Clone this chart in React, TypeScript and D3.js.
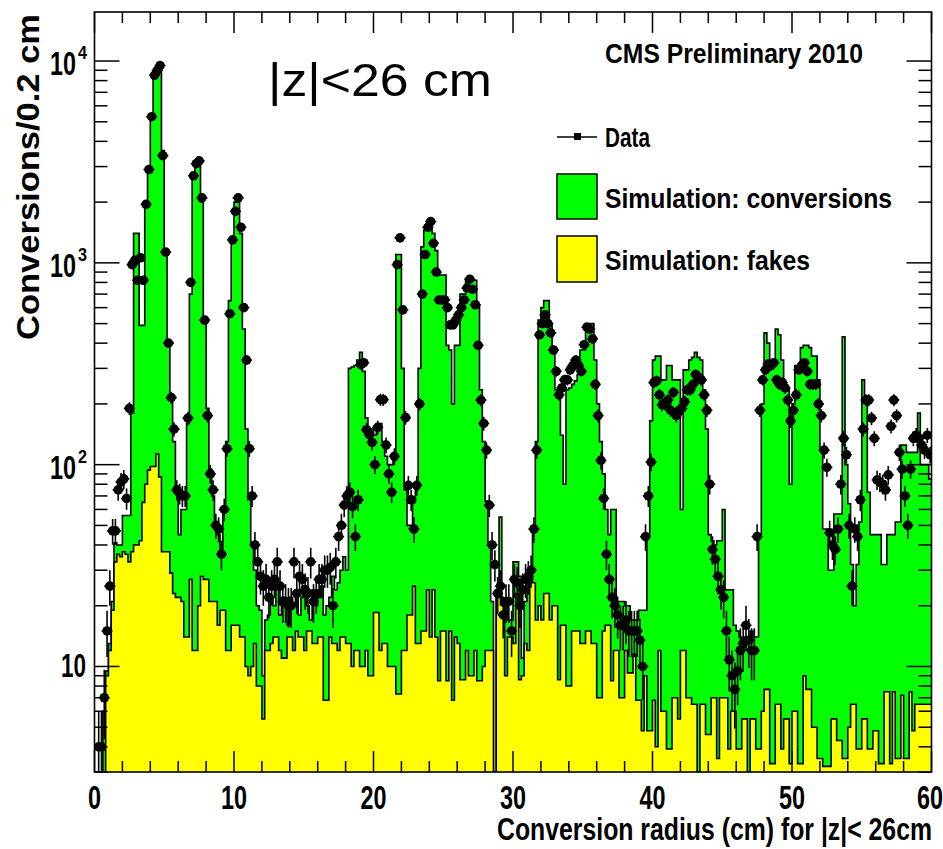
import React from 'react';
import * as d3 from 'd3';

// ---------------- data (0.2 cm bins, 0-60 cm) ----------------
const BIN_WIDTH = 0.2;
const X_DOMAIN: [number, number] = [0, 60];
const Y_DOMAIN: [number, number] = [3, 17500];

const simConversions: number[] = [
  0, 0, 0, 6, 9.5, 13, 21, 41, 40, 40,
  56, 56, 56, 180, 1400, 1400, 490, 490, 1950, 2900,
  5200, 8500, 9000, 9600, 3600, 1130, 390, 210, 130, 73,
  45, 60, 60, 160, 700, 2800, 3000, 3100, 2000, 500,
  190, 95, 70, 50, 45, 35, 60, 130, 650, 1300,
  2000, 2000, 1400, 470, 150, 67, 40, 30, 20, 19,
  9, 17, 18, 22, 20, 24, 18, 22, 20, 16,
  22, 20, 24, 18, 22, 25, 20, 17, 24, 20,
  22, 25, 18, 20, 22, 28, 24, 26, 30, 35,
  30, 300, 305, 310, 330, 360, 290, 170, 150, 150,
  140, 150, 160, 130, 110, 100, 100, 105, 1100, 1100,
  300, 75, 50, 50, 65, 75, 300, 1200, 1450, 1500,
  1500, 1400, 1150, 870, 870, 870, 390, 370, 200, 390,
  390, 700, 700, 820, 820, 820, 820, 620, 235, 130,
  66, 40, 21, 0, 24, 55, 21, 21, 17, 17,
  33, 33, 28, 11, 21, 29, 29, 50, 130, 520,
  600, 650, 650, 500, 370, 235, 235, 140, 80, 235,
  240, 250, 260, 280, 370, 370, 500, 500, 500, 330,
  200, 130, 90, 60, 45, 60, 60, 21, 21, 21,
  20, 20, 17, 17, 17, 19, 19, 19, 45, 165,
  330, 345, 345, 263, 263, 310, 310, 263, 263, 263,
  60, 295, 295, 330, 340, 360, 340, 330, 235, 150,
  45, 42, 40, 42, 42, 60, 24, 24, 24, 16,
  15, 14, 13, 14, 14, 15, 14, 14, 45, 200,
  450, 400, 330, 330, 470, 440, 330, 235, 235, 80,
  200, 310, 310, 380, 390, 390, 380, 345, 345, 263,
  118, 48, 48, 30, 30, 57, 57, 57, 430, 100,
  64, 32, 20, 32, 52, 263, 200, 73, 45, 45,
  45, 45, 32, 32, 45, 45, 45, 52, 52, 125,
  125, 115, 115, 115, 115, 180, 100, 100, 100, 85,
];

const simFakes: number[] = [
  0, 0, 0, 0, 9, 12, 19, 33, 36, 35,
  37, 36, 33, 37, 40, 40, 42, 65, 80, 94,
  98, 98, 113, 87, 37, 37, 37, 29, 23, 22,
  22, 21, 14, 14, 27, 12, 12, 20, 28, 27,
  27, 21, 21, 21, 16, 19, 19, 12, 12, 16,
  16, 16, 14, 14, 10, 9, 10, 13, 8, 8,
  5.5, 12, 12, 13, 14, 14, 12, 11, 11, 14,
  14, 12, 15, 14, 14, 12, 15, 15, 13, 13,
  14, 14, 6.8, 6.8, 14, 13, 13, 12, 14, 14,
  13, 13, 10, 12, 12, 10, 10, 12, 9, 9,
  18.5, 18.5, 12, 13, 13, 10, 10, 10, 7.3, 7.3,
  12, 12, 18, 18, 25, 13, 13, 15, 15, 24,
  14, 24, 14, 8.5, 15, 15, 8.5, 15, 6.8, 14,
  13, 8.6, 8.6, 12, 9, 9, 12, 8.5, 8.5, 10,
  12, 12, 12, 0, 22, 22, 20, 9, 14, 14,
  13, 23, 8.6, 9, 13, 12, 28, 26, 17, 20,
  17, 23, 23, 17, 20, 20, 8.6, 16, 16, 8,
  8, 15, 15, 15, 13, 13, 15, 15, 13, 13,
  7, 7, 15, 16, 16, 8.5, 12, 12, 7, 7,
  12, 9.3, 9.3, 11.5, 6.8, 6.8, 4.8, 9, 4.8, 4.8,
  6.8, 4, 12, 6, 6, 3.9, 3.9, 7, 7, 5.5,
  12, 12, 7, 7, 6.5, 6.5, 0, 6.5, 6.5, 4.6,
  4.6, 7, 7, 3.5, 7, 7, 7, 3.9, 6, 6,
  3.9, 3.9, 5.5, 5.5, 0, 5.5, 5.5, 3.9, 3.9, 6,
  7.7, 7.7, 3.3, 3.3, 6.5, 6.5, 3.9, 5.5, 5.5, 3.3,
  6, 6, 3.3, 3.3, 9, 7.7, 7.7, 5, 5, 3.5,
  3.5, 3.2, 3.2, 3.2, 5.5, 5.5, 4.3, 4.3, 3.5, 3.5,
  5, 6.5, 6.5, 3.9, 3.9, 5.5, 5.5, 3.9, 3.9, 4.8,
  4.8, 3.3, 3.3, 7.5, 7.5, 3.3, 7.5, 3.5, 3.5, 7.2,
  3.5, 3.5, 7.5, 4.8, 6.5, 6.5, 6.5, 6.5, 6.5, 6.5,
];

const dataCounts: number[] = [
  0, 4, 4, 7, 15, 25, 47, 47, 75, 82,
  85, 68, 190, 980, 1030, 820, 1060, 820, 1950, 2900,
  5300, 8500, 9000, 9500, 3400, 1130, 400, 215, 150, 75,
  72, 70, 70, 170, 800, 2700, 3100, 3200, 2100, 520,
  175, 90, 75, 50, 48, 36, 60, 120, 560, 1300,
  1800, 2100, 1500, 600, 330, 120, 70, 40, 33, 28,
  25, 27, 22, 25, 27, 33, 25, 21, 21, 20,
  20, 33, 23, 28, 27, 24, 23, 33, 21, 23,
  27, 27, 30, 30, 31, 20, 33, 44, 50, 63,
  70, 73, 62, 44, 67, 313, 320, 149, 141, 129,
  100, 153, 210, 210, 125, 90, 73, 110, 980, 1330,
  585, 171, 79, 67, 48, 79, 200, 700, 1100, 1500,
  1600, 1250, 900, 655, 655, 655, 600, 493, 493, 520,
  553, 600, 655, 750, 830, 740, 620, 390, 209, 160,
  118, 63, 40, 32, 23, 25, 18, 21, 21, 15,
  27, 26, 20, 24, 27, 28, 30, 48, 118, 440,
  500, 553, 500, 450, 370, 290, 222, 240, 263, 263,
  295, 310, 330, 310, 290, 393, 480, 470, 420, 250,
  175, 105, 68, 36, 27, 22, 20, 18, 16, 16,
  17, 15, 15, 15, 15, 13.5, 10, 44, 70, 103,
  255, 260, 222, 198, 200, 209, 186, 228, 175, 186,
  190, 205, 235, 235, 250, 280, 270, 263, 222, 186,
  80, 38, 34, 28, 24, 22, 15, 10.8, 9, 7.7,
  9.5, 12, 13, 16, 13.5, 12, 12, 44, 186, 263,
  295, 315, 310, 320, 263, 250, 255, 240, 209, 165,
  186, 222, 295, 310, 320, 290, 250, 250, 250, 200,
  175, 118, 97, 46, 40, 38, 48, 80, 135, 112,
  50, 25, 48, 44, 67, 150, 209, 209, 170, 135,
  84, 82, 80, 75, 89, 155, 209, 175, 115, 95,
  70, 50, 95, 135, 140, 135, 125, 118, 140, 112,
];

const xTickValues = [0, 10, 20, 30, 40, 50, 60];
const xTickLabels = ['0', '10', '20', '30', '40', '50', '60'];
const yTickValues = [10, 100, 1000, 10000];
const yTickExponents = ['', '2', '3', '4'];

const legendLabels = ['Data', 'Simulation: conversions', 'Simulation: fakes'];
const xTitle = 'Conversion radius (cm) for |z|< 26cm';
const yTitle = 'Conversions/0.2 cm';
const cmsLabel = 'CMS Preliminary 2010';
const zLabel = '|z|<26 cm';

// ---------------- layout ----------------
const W = 943;
const H = 849;
const FL = 94.5, FR = 931.5, FT = 12, FB = 772;
const FONT = "'Liberation Sans', Arial, Helvetica, sans-serif";
const GREEN = '#00ff00';
const YELLOW = '#ffff00';

type P = [number, number];

export default function App() {
  const x = d3.scaleLinear().domain(X_DOMAIN).range([FL, FR]);
  const y = d3.scaleLog().domain(Y_DOMAIN).range([FB, FT]);
  const yc = (v: number) => y(Math.max(v, Y_DOMAIN[0]));

  const stepPts = (vals: number[]): P[] => {
    const p: P[] = vals.map((v, i) => [X_DOMAIN[0] + i * BIN_WIDTH, v] as P);
    p.push([X_DOMAIN[0] + vals.length * BIN_WIDTH, vals[vals.length - 1]]);
    return p;
  };
  const area = d3
    .area<P>()
    .x((d) => x(d[0]))
    .y0(FB)
    .y1((d) => yc(d[1]))
    .curve(d3.curveStepAfter);
  const line = d3
    .line<P>()
    .x((d) => x(d[0]))
    .y((d) => yc(d[1]))
    .curve(d3.curveStepAfter);

  const greenPts = stepPts(simConversions);
  const yellowPts = stepPts(simFakes);

  const xMinor: number[] = d3.range(X_DOMAIN[0], X_DOMAIN[1] + 0.001, 2);
  const yMinor: number[] = [];
  for (let d = 0; d <= 4; d++) {
    for (let k = 2; k <= 9; k++) {
      const v = k * Math.pow(10, d);
      if (v >= Y_DOMAIN[0] && v <= Y_DOMAIN[1]) yMinor.push(v);
    }
  }

  const dataPts = dataCounts
    .map((v, i) => ({ v, c: X_DOMAIN[0] + (i + 0.5) * BIN_WIDTH, l: X_DOMAIN[0] + i * BIN_WIDTH }))
    .filter((d) => d.v > 0);

  return (
    <svg
      width={W}
      height={H}
      viewBox={`0 0 ${W} ${H}`}
      style={{ position: 'absolute', left: 0, top: 0, background: '#fff' }}
      fontFamily={FONT}
    >
      <defs>
        <clipPath id="frameClip">
          <rect x={FL} y={FT} width={FR - FL} height={FB - FT} />
        </clipPath>
      </defs>
      <rect x={0} y={0} width={W} height={H} fill="#fff" />

      <g clipPath="url(#frameClip)">
        <path d={area(greenPts) || ''} fill={GREEN} stroke="none" />
        <path d={line(greenPts) || ''} fill="none" stroke="#000" strokeWidth={1.6} />
        <path d={area(yellowPts) || ''} fill={YELLOW} stroke="none" />
        <path d={line(yellowPts) || ''} fill="none" stroke="#000" strokeWidth={1.6} />

        {dataPts.map((d, i) => {
          const err = Math.sqrt(d.v);
          const cx = x(d.c);
          const cy = yc(d.v);
          return (
            <g key={i}>
              <line x1={cx} x2={cx} y1={yc(d.v - err)} y2={yc(d.v + err)} stroke="#000" strokeWidth={1.6} />
              <line x1={cx - 5.5} x2={cx + 5.5} y1={cy} y2={cy} stroke="#000" strokeWidth={1.6} />
              <circle cx={cx} cy={cy} r={4.8} fill="#000" />
            </g>
          );
        })}
      </g>

      {/* axis ticks */}
      <g stroke="#000" strokeWidth={1.5}>
        {xMinor.map((v) => {
          const major = xTickValues.includes(v);
          const len = major ? 21 : 11;
          return (
            <g key={`xt${v}`}>
              <line x1={x(v)} x2={x(v)} y1={FB} y2={FB - len} />
              <line x1={x(v)} x2={x(v)} y1={FT} y2={FT + len} />
            </g>
          );
        })}
        {yTickValues.map((v) => (
          <g key={`yt${v}`}>
            <line x1={FL} x2={FL + 25} y1={y(v)} y2={y(v)} />
            <line x1={FR} x2={FR - 25} y1={y(v)} y2={y(v)} />
          </g>
        ))}
        {yMinor.map((v) => (
          <g key={`ym${v}`}>
            <line x1={FL} x2={FL + 13} y1={y(v)} y2={y(v)} />
            <line x1={FR} x2={FR - 13} y1={y(v)} y2={y(v)} />
          </g>
        ))}
      </g>

      {/* frame */}
      <rect x={FL} y={FT} width={FR - FL} height={FB - FT} fill="none" stroke="#000" strokeWidth={1.6} />

      {/* x tick labels */}
      {xTickValues.map((v, i) => (
        <text
          key={`xl${v}`}
          x={Math.min(x(v), 930)}
          y={809}
          fontSize={34}
          fontWeight="bold"
          textAnchor="middle"
          textLength={xTickLabels[i].length * 13}
          lengthAdjust="spacingAndGlyphs"
        >
          {xTickLabels[i]}
        </text>
      ))}

      {/* y tick labels */}
      {yTickValues.map((v, i) =>
        yTickExponents[i] === '' ? (
          <text
            key={`yl${v}`}
            x={86}
            y={y(v) + 11}
            fontSize={34}
            fontWeight="bold"
            textAnchor="end"
            textLength={25}
            lengthAdjust="spacingAndGlyphs"
          >
            10
          </text>
        ) : (
          <g key={`yl${v}`}>
            <text
              x={76}
              y={y(v) + 14}
              fontSize={34}
              fontWeight="bold"
              textAnchor="end"
              textLength={26}
              lengthAdjust="spacingAndGlyphs"
            >
              10
            </text>
            <text
              x={78}
              y={y(v) - 2}
              fontSize={19}
              fontWeight="bold"
              textLength={9}
              lengthAdjust="spacingAndGlyphs"
            >
              {yTickExponents[i]}
            </text>
          </g>
        )
      )}

      {/* axis titles */}
      <text
        x={932}
        y={840}
        fontSize={32}
        fontWeight="bold"
        textAnchor="end"
        textLength={435}
        lengthAdjust="spacingAndGlyphs"
      >
        {xTitle}
      </text>
      <g transform="translate(39,14) rotate(-90) scale(1,0.9)">
        <text
          x={0}
          y={0}
          fontSize={34}
          fontWeight="bold"
          textAnchor="end"
          textLength={326}
          lengthAdjust="spacingAndGlyphs"
        >
          {yTitle}
        </text>
      </g>

      {/* annotations */}
      <text x={268} y={96} fontSize={46} textLength={224} lengthAdjust="spacingAndGlyphs">
        {zLabel}
      </text>
      <text
        x={605}
        y={63}
        fontSize={27}
        fontWeight="bold"
        textLength={258}
        lengthAdjust="spacingAndGlyphs"
      >
        {cmsLabel}
      </text>

      {/* legend */}
      <g>
        <line x1={557} x2={597} y1={137} y2={137} stroke="#000" strokeWidth={1.5} />
        <rect x={574} y={133} width={7} height={7} fill="#000" />
        <text x={605} y={147} fontSize={28} fontWeight="bold" textLength={45} lengthAdjust="spacingAndGlyphs">
          {legendLabels[0]}
        </text>
        <rect x={557} y={174} width={40} height={45} fill={GREEN} stroke="#000" strokeWidth={1.5} />
        <text x={605} y={208} fontSize={28} fontWeight="bold" textLength={287} lengthAdjust="spacingAndGlyphs">
          {legendLabels[1]}
        </text>
        <rect x={557} y={236} width={40} height={46} fill={YELLOW} stroke="#000" strokeWidth={1.5} />
        <text x={605} y={270} fontSize={28} fontWeight="bold" textLength={205} lengthAdjust="spacingAndGlyphs">
          {legendLabels[2]}
        </text>
      </g>
    </svg>
  );
}
